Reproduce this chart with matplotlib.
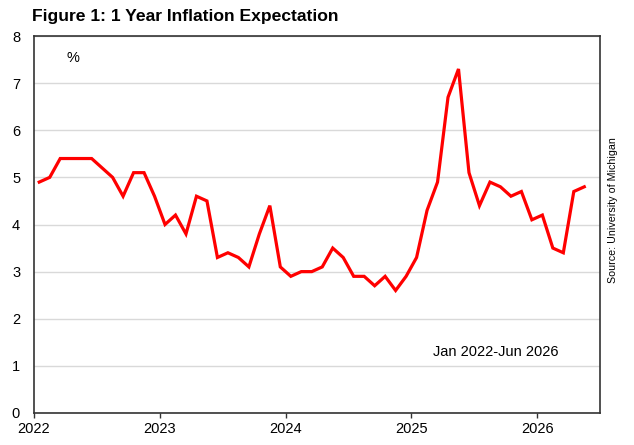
import numpy as np
import matplotlib
matplotlib.use('Agg')
from matplotlib import pyplot as plt

plt.rcParams.update({'font.family': ['Liberation Sans', 'DejaVu Sans'], 'font.size': 10})

# monthly 1-year inflation expectation, Jan 2022 onwards
values = [4.9, 5.0, 5.4, 5.4, 5.4, 5.4, 5.2, 5.0, 4.6, 5.1, 5.1, 4.6,
          4.0, 4.2, 3.8, 4.6, 4.5, 3.3, 3.4, 3.3, 3.1, 3.8, 4.4, 3.1,
          2.9, 3.0, 3.0, 3.1, 3.5, 3.3, 2.9, 2.9, 2.7, 2.9, 2.6, 2.9,
          3.3, 4.3, 4.9, 6.7, 7.3, 5.1, 4.4, 4.9, 4.8, 4.6, 4.7, 4.1,
          4.2, 3.5, 3.4, 4.7, 4.8]
years = ['2022', '2023', '2024', '2025', '2026']
n_months = 54  # Jan 2022 - Jun 2026

months = np.arange(len(values)) + 0.5

fig = plt.figure(figsize=(6.34, 4.45), dpi=100)
ax = fig.add_axes([34 / 634, 32 / 445, 566 / 634, 377 / 445])

ax.plot(months, values, color='#ff0000', linewidth=2.3, solid_joinstyle='miter', zorder=3)

ax.set_xlim(0, n_months)
ax.set_ylim(0, 8)
ax.set_yticks(range(0, 9))
ax.set_xticks(np.arange(len(years)) * 12)
ax.set_xticklabels(years)
ax.grid(axis='y', color='#d9d9d9', linewidth=1.0)
ax.set_axisbelow(True)

for s in ax.spines.values():
    s.set_color('#333333')
    s.set_linewidth(1.2)

ax.tick_params(axis='y', length=0, pad=10, labelsize=10.5)
ax.tick_params(axis='x', length=3.5, width=1.0, color='#333333', pad=3, labelsize=10.5)

ax.text(3.7, 7.53, '%', ha='center', va='center', fontsize=10.5)
ax.text(44.1, 1.29, 'Jan 2022-Jun 2026', ha='center', va='center', fontsize=10.5)

fig.text(32 / 634, 1 - 17 / 445, 'Figure 1: 1 Year Inflation Expectation',
         ha='left', va='center', fontsize=12.6, fontweight='bold')
fig.text(613 / 634, 1 - 210 / 445, 'Source: University of Michigan',
         ha='center', va='center', rotation=90, fontsize=7.7)

fig.savefig('out.png', dpi=100)
